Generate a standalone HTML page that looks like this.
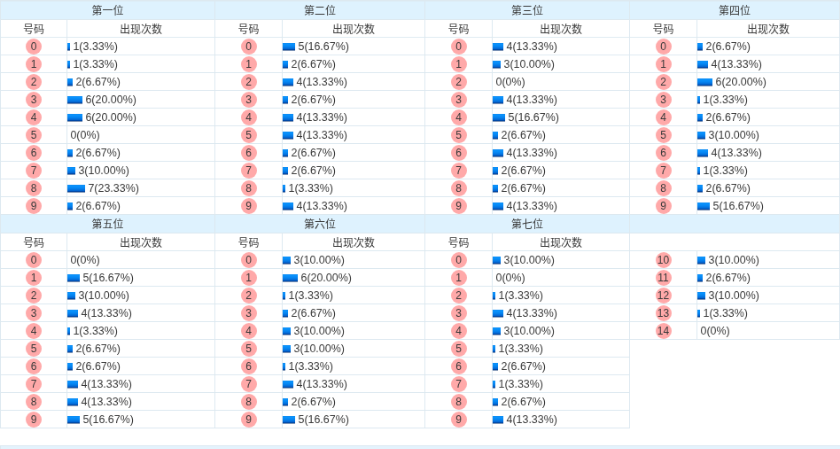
<!DOCTYPE html>
<html lang="zh-CN">
<head>
<meta charset="utf-8">
<title>号码出现次数统计</title>
<style>
html,body{margin:0;padding:0;background:#fff;}
body{width:840px;height:449px;overflow:hidden;position:relative;}
#wrap{position:absolute;left:0;top:0;width:948px;height:510px;transform-origin:0 0;
  transform:translate(0px,0.45px) scale(0.886076);will-change:transform;
  font-family:"Liberation Sans","Noto Sans CJK SC",sans-serif;font-size:12px;color:#3a3a3a;}
#edge{position:absolute;left:0;top:-2px;width:948px;height:3px;background:#dde9f0;}
table{border-collapse:collapse;table-layout:fixed;width:947px;position:absolute;left:0;top:0;}
col.a1{width:75px}col.b1{width:167px}
col.a2{width:76px}col.b2{width:161px}
col.a3{width:76px}col.b3{width:155px}
col.a4{width:76px}col.b4{width:161px}
th,td{border:1px solid #dde9f0;padding:0;height:19px;line-height:19px;font-weight:normal;white-space:nowrap;overflow:hidden;}
tr.h th{background:#def2fe;height:18px;line-height:18px;padding-top:2px;}
tr.s th{height:15px;line-height:15px;padding-top:4px;}
td.n,th{text-align:center;}
td.c{text-align:left;font-size:12.45px;padding-top:2px;height:17px;line-height:17px;}
td.empty{border:0;border-left:1px solid #dde9f0;border-top:1px solid #dde9f0;}
.ball{display:inline-block;width:18px;height:18px;line-height:19px;border-radius:50%;background:#ffa9a9;vertical-align:top;margin-top:1px;}
.bar{display:inline-block;height:9px;vertical-align:-1px;
  background:linear-gradient(#1089ee 0%,#0a94ff 13%,#0684f0 45%,#0468d4 72%,#004ba9 81%,#003f9c 88.8%,rgba(0,45,110,0.5) 89%,rgba(0,45,110,0.5) 100%);}
.w0{width:0}.w1{width:3px}.w2{width:6px}.w3{width:9px}.w4{width:12px}.w5{width:14px}.w6{width:17px}.w7{width:20px}
#next{position:absolute;left:0;top:502px;width:948px;height:8px;box-sizing:border-box;background:#e4f3fd;border-top:1px solid #dce9f2;border-left:1px solid #dde9f0;}

</style>
</head>
<body>
<div id="wrap">
<div id="edge"></div>
<table id="stat">
<colgroup><col class="a1"><col class="b1"><col class="a2"><col class="b2"><col class="a3"><col class="b3"><col class="a4"><col class="b4"></colgroup>
<tbody>
<tr class="h"><th colspan="2">第一位</th><th colspan="2">第二位</th><th colspan="2">第三位</th><th colspan="2">第四位</th></tr>
<tr class="s"><th>号码</th><th>出现次数</th><th>号码</th><th>出现次数</th><th>号码</th><th>出现次数</th><th>号码</th><th>出现次数</th></tr>
<tr class="d"><td class="n"><span class="ball">0</span></td><td class="c"><i class="bar w1"></i> 1(3.33%)</td><td class="n"><span class="ball">0</span></td><td class="c"><i class="bar w5"></i> 5(16.67%)</td><td class="n"><span class="ball">0</span></td><td class="c"><i class="bar w4"></i> 4(13.33%)</td><td class="n"><span class="ball">0</span></td><td class="c"><i class="bar w2"></i> 2(6.67%)</td></tr>
<tr class="d"><td class="n"><span class="ball">1</span></td><td class="c"><i class="bar w1"></i> 1(3.33%)</td><td class="n"><span class="ball">1</span></td><td class="c"><i class="bar w2"></i> 2(6.67%)</td><td class="n"><span class="ball">1</span></td><td class="c"><i class="bar w3"></i> 3(10.00%)</td><td class="n"><span class="ball">1</span></td><td class="c"><i class="bar w4"></i> 4(13.33%)</td></tr>
<tr class="d"><td class="n"><span class="ball">2</span></td><td class="c"><i class="bar w2"></i> 2(6.67%)</td><td class="n"><span class="ball">2</span></td><td class="c"><i class="bar w4"></i> 4(13.33%)</td><td class="n"><span class="ball">2</span></td><td class="c"><i class="bar w0"></i> 0(0%)</td><td class="n"><span class="ball">2</span></td><td class="c"><i class="bar w6"></i> 6(20.00%)</td></tr>
<tr class="d"><td class="n"><span class="ball">3</span></td><td class="c"><i class="bar w6"></i> 6(20.00%)</td><td class="n"><span class="ball">3</span></td><td class="c"><i class="bar w2"></i> 2(6.67%)</td><td class="n"><span class="ball">3</span></td><td class="c"><i class="bar w4"></i> 4(13.33%)</td><td class="n"><span class="ball">3</span></td><td class="c"><i class="bar w1"></i> 1(3.33%)</td></tr>
<tr class="d"><td class="n"><span class="ball">4</span></td><td class="c"><i class="bar w6"></i> 6(20.00%)</td><td class="n"><span class="ball">4</span></td><td class="c"><i class="bar w4"></i> 4(13.33%)</td><td class="n"><span class="ball">4</span></td><td class="c"><i class="bar w5"></i> 5(16.67%)</td><td class="n"><span class="ball">4</span></td><td class="c"><i class="bar w2"></i> 2(6.67%)</td></tr>
<tr class="d"><td class="n"><span class="ball">5</span></td><td class="c"><i class="bar w0"></i> 0(0%)</td><td class="n"><span class="ball">5</span></td><td class="c"><i class="bar w4"></i> 4(13.33%)</td><td class="n"><span class="ball">5</span></td><td class="c"><i class="bar w2"></i> 2(6.67%)</td><td class="n"><span class="ball">5</span></td><td class="c"><i class="bar w3"></i> 3(10.00%)</td></tr>
<tr class="d"><td class="n"><span class="ball">6</span></td><td class="c"><i class="bar w2"></i> 2(6.67%)</td><td class="n"><span class="ball">6</span></td><td class="c"><i class="bar w2"></i> 2(6.67%)</td><td class="n"><span class="ball">6</span></td><td class="c"><i class="bar w4"></i> 4(13.33%)</td><td class="n"><span class="ball">6</span></td><td class="c"><i class="bar w4"></i> 4(13.33%)</td></tr>
<tr class="d"><td class="n"><span class="ball">7</span></td><td class="c"><i class="bar w3"></i> 3(10.00%)</td><td class="n"><span class="ball">7</span></td><td class="c"><i class="bar w2"></i> 2(6.67%)</td><td class="n"><span class="ball">7</span></td><td class="c"><i class="bar w2"></i> 2(6.67%)</td><td class="n"><span class="ball">7</span></td><td class="c"><i class="bar w1"></i> 1(3.33%)</td></tr>
<tr class="d"><td class="n"><span class="ball">8</span></td><td class="c"><i class="bar w7"></i> 7(23.33%)</td><td class="n"><span class="ball">8</span></td><td class="c"><i class="bar w1"></i> 1(3.33%)</td><td class="n"><span class="ball">8</span></td><td class="c"><i class="bar w2"></i> 2(6.67%)</td><td class="n"><span class="ball">8</span></td><td class="c"><i class="bar w2"></i> 2(6.67%)</td></tr>
<tr class="d"><td class="n"><span class="ball">9</span></td><td class="c"><i class="bar w2"></i> 2(6.67%)</td><td class="n"><span class="ball">9</span></td><td class="c"><i class="bar w4"></i> 4(13.33%)</td><td class="n"><span class="ball">9</span></td><td class="c"><i class="bar w4"></i> 4(13.33%)</td><td class="n"><span class="ball">9</span></td><td class="c"><i class="bar w5"></i> 5(16.67%)</td></tr>
<tr class="h"><th colspan="2">第五位</th><th colspan="2">第六位</th><th colspan="2">第七位</th><th colspan="2"></th></tr>
<tr class="s"><th>号码</th><th>出现次数</th><th>号码</th><th>出现次数</th><th>号码</th><th>出现次数</th><th colspan="2"></th></tr>
<tr class="d"><td class="n"><span class="ball">0</span></td><td class="c"><i class="bar w0"></i> 0(0%)</td><td class="n"><span class="ball">0</span></td><td class="c"><i class="bar w3"></i> 3(10.00%)</td><td class="n"><span class="ball">0</span></td><td class="c"><i class="bar w3"></i> 3(10.00%)</td><td class="n"><span class="ball">10</span></td><td class="c"><i class="bar w3"></i> 3(10.00%)</td></tr>
<tr class="d"><td class="n"><span class="ball">1</span></td><td class="c"><i class="bar w5"></i> 5(16.67%)</td><td class="n"><span class="ball">1</span></td><td class="c"><i class="bar w6"></i> 6(20.00%)</td><td class="n"><span class="ball">1</span></td><td class="c"><i class="bar w0"></i> 0(0%)</td><td class="n"><span class="ball">11</span></td><td class="c"><i class="bar w2"></i> 2(6.67%)</td></tr>
<tr class="d"><td class="n"><span class="ball">2</span></td><td class="c"><i class="bar w3"></i> 3(10.00%)</td><td class="n"><span class="ball">2</span></td><td class="c"><i class="bar w1"></i> 1(3.33%)</td><td class="n"><span class="ball">2</span></td><td class="c"><i class="bar w1"></i> 1(3.33%)</td><td class="n"><span class="ball">12</span></td><td class="c"><i class="bar w3"></i> 3(10.00%)</td></tr>
<tr class="d"><td class="n"><span class="ball">3</span></td><td class="c"><i class="bar w4"></i> 4(13.33%)</td><td class="n"><span class="ball">3</span></td><td class="c"><i class="bar w2"></i> 2(6.67%)</td><td class="n"><span class="ball">3</span></td><td class="c"><i class="bar w4"></i> 4(13.33%)</td><td class="n"><span class="ball">13</span></td><td class="c"><i class="bar w1"></i> 1(3.33%)</td></tr>
<tr class="d"><td class="n"><span class="ball">4</span></td><td class="c"><i class="bar w1"></i> 1(3.33%)</td><td class="n"><span class="ball">4</span></td><td class="c"><i class="bar w3"></i> 3(10.00%)</td><td class="n"><span class="ball">4</span></td><td class="c"><i class="bar w3"></i> 3(10.00%)</td><td class="n"><span class="ball">14</span></td><td class="c"><i class="bar w0"></i> 0(0%)</td></tr>
<tr class="d"><td class="n"><span class="ball">5</span></td><td class="c"><i class="bar w2"></i> 2(6.67%)</td><td class="n"><span class="ball">5</span></td><td class="c"><i class="bar w3"></i> 3(10.00%)</td><td class="n"><span class="ball">5</span></td><td class="c"><i class="bar w1"></i> 1(3.33%)</td><td colspan="2" rowspan="5" class="empty"></td></tr>
<tr class="d"><td class="n"><span class="ball">6</span></td><td class="c"><i class="bar w2"></i> 2(6.67%)</td><td class="n"><span class="ball">6</span></td><td class="c"><i class="bar w1"></i> 1(3.33%)</td><td class="n"><span class="ball">6</span></td><td class="c"><i class="bar w2"></i> 2(6.67%)</td></tr>
<tr class="d"><td class="n"><span class="ball">7</span></td><td class="c"><i class="bar w4"></i> 4(13.33%)</td><td class="n"><span class="ball">7</span></td><td class="c"><i class="bar w4"></i> 4(13.33%)</td><td class="n"><span class="ball">7</span></td><td class="c"><i class="bar w1"></i> 1(3.33%)</td></tr>
<tr class="d"><td class="n"><span class="ball">8</span></td><td class="c"><i class="bar w4"></i> 4(13.33%)</td><td class="n"><span class="ball">8</span></td><td class="c"><i class="bar w2"></i> 2(6.67%)</td><td class="n"><span class="ball">8</span></td><td class="c"><i class="bar w2"></i> 2(6.67%)</td></tr>
<tr class="d"><td class="n"><span class="ball">9</span></td><td class="c"><i class="bar w5"></i> 5(16.67%)</td><td class="n"><span class="ball">9</span></td><td class="c"><i class="bar w5"></i> 5(16.67%)</td><td class="n"><span class="ball">9</span></td><td class="c"><i class="bar w4"></i> 4(13.33%)</td></tr>
</tbody>
</table>
<div id="next"></div>
</div>
</body>
</html>
